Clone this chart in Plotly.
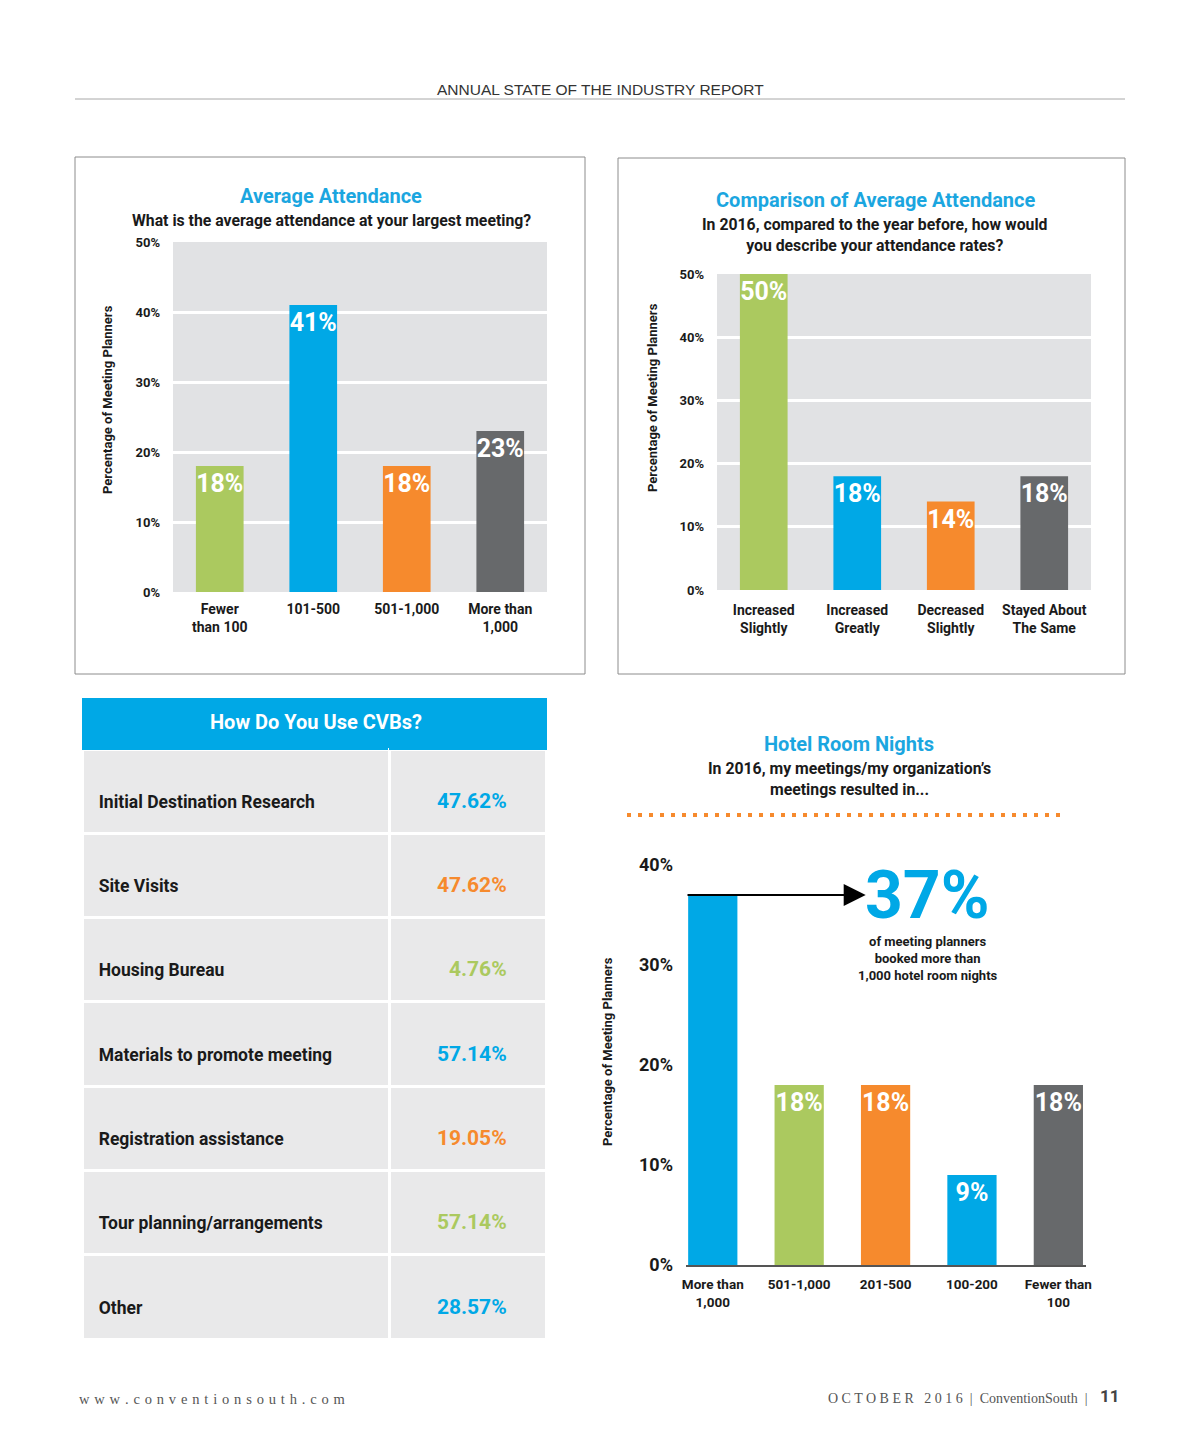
import plotly.graph_objects as go

W, H = 1200, 1450
OFF = 8  # the page body adds an 8px margin around the figure

# ---------------- data ----------------
att_categories = ["Fewer<br>than 100", "101-500", "501-1,000", "More than<br>1,000"]
att_values = [18, 41, 18, 23]

cmp_categories = ["Increased<br>Slightly", "Increased<br>Greatly", "Decreased<br>Slightly", "Stayed About<br>The Same"]
cmp_values = [50, 18, 14, 18]

cvb_uses = ["Initial Destination Research", "Site Visits", "Housing Bureau",
            "Materials to promote meeting", "Registration assistance",
            "Tour planning/arrangements", "Other"]
cvb_values = [47.62, 47.62, 4.76, 57.14, 19.05, 57.14, 28.57]

hotel_categories = ["More than<br>1,000", "501-1,000", "201-500", "100-200", "Fewer than<br>100"]
hotel_values = [37, 18, 18, 9, 18]

ticks_50 = [0, 10, 20, 30, 40, 50]
ticks_40 = [0, 10, 20, 30, 40]

# ---------------- style ----------------
GREEN = "#abc95f"
BLUE = "#00a8e6"
ORANGE = "#f68a2d"
GREY = "#67696b"
PANEL = "#e1e2e4"
CELL = "#e9e9ea"
TITLE_BLUE = "#1ba6e0"
INK = "#1a1a1a"
COND = "Roboto, Liberation Sans Narrow, DejaVu Sans Condensed, sans-serif"

att_colors = [GREEN, BLUE, ORANGE, GREY]
cmp_colors = [GREEN, BLUE, ORANGE, GREY]
cvb_colors = [BLUE, ORANGE, GREEN, BLUE, ORANGE, GREEN, BLUE]
hotel_colors = [BLUE, GREEN, ORANGE, BLUE, GREY]


def px(x):
    return (x - OFF) / W


def py(y):
    return 1 - (y - OFF) / H


bar_text_font = dict(family=COND, size=25, color="white", weight="bold")

fig = go.Figure()

fig.add_trace(go.Bar(
    x=att_categories, y=att_values, xaxis="x", yaxis="y",
    marker=dict(color=att_colors, line=dict(width=0)), width=0.51,
    text=[f"{v}%" for v in att_values], textposition="inside", textangle=0,
    insidetextanchor="end", textfont=bar_text_font, constraintext="none",
    hoverinfo="skip"))

fig.add_trace(go.Bar(
    x=cmp_categories, y=cmp_values, xaxis="x2", yaxis="y2",
    marker=dict(color=cmp_colors, line=dict(width=0)), width=0.51,
    text=[f"{v}%" for v in cmp_values], textposition="inside", textangle=0,
    insidetextanchor="end", textfont=bar_text_font, constraintext="none",
    hoverinfo="skip"))

fig.add_trace(go.Bar(
    x=hotel_categories, y=hotel_values, xaxis="x3", yaxis="y3",
    marker=dict(color=hotel_colors, line=dict(width=0)), width=0.57,
    text=[""] + [f"{v}%" for v in hotel_values[1:]], textposition="inside",
    textangle=0, insidetextanchor="end", textfont=bar_text_font,
    constraintext="none", hoverinfo="skip"))

# cell text: an invisible first line pushes the text down to the cell middle
label_cells = ["\u00a0<br><span style='font-size:17.5px'>\u00a0\u00a0" + s + "</span>"
               for s in cvb_uses]
value_cells = ["\u00a0<br><span style='font-size:21px'>" + f"{v:.2f}%"
               + "\u00a0" * 6 + "</span>" for v in cvb_values]

fig.add_trace(go.Table(
    domain=dict(x=[px(82), px(546)], y=[py(1350), py(698)]),
    columnwidth=[306, 156],
    header=dict(values=["", ""], fill_color=BLUE, height=51,
                line=dict(color=BLUE, width=1)),
    cells=dict(
        values=[label_cells, value_cells],
        align=["left", "right"], height=84.3,
        fill_color=CELL, line=dict(color="white", width=3),
        font=dict(family=COND, size=23, weight="bold",
                  color=[[INK] * len(cvb_uses), cvb_colors]))))

axis_common = dict(showline=False, zeroline=False, ticks="", fixedrange=True,
                   automargin=False)
xtick_font = dict(family=COND, size=14, weight="bold", color=INK)

fig.update_layout(
    template="none",
    width=W, height=H, margin=dict(l=0, r=0, t=0, b=0, autoexpand=False),
    paper_bgcolor="white", plot_bgcolor="white", showlegend=False,
    font=dict(family=COND, color=INK),
    xaxis=dict(domain=[px(173), px(547)], showgrid=False, tickangle=0,
               tickfont=xtick_font, ticklabelstandoff=7, **axis_common),
    yaxis=dict(domain=[py(592), py(242)], range=[0, 50], tickvals=ticks_50,
               ticktext=[f"{v}%" for v in ticks_50],
               showgrid=True, gridcolor="white", gridwidth=3,
               tickfont=dict(family=COND, size=13, weight="bold", color=INK),
               ticklabelstandoff=12, **axis_common),
    xaxis2=dict(domain=[px(717), px(1091)], showgrid=False, anchor="y2",
                tickangle=0, tickfont=xtick_font, ticklabelstandoff=10,
                **axis_common),
    yaxis2=dict(domain=[py(590), py(274)], range=[0, 50], tickvals=ticks_50,
                ticktext=[f"{v}%" for v in ticks_50],
                anchor="x2", showgrid=True, gridcolor="white", gridwidth=3,
                tickfont=dict(family=COND, size=13, weight="bold", color=INK),
                ticklabelstandoff=12, **axis_common),
    xaxis3=dict(domain=[px(686), px(1086)], range=[-0.31, 4.32], anchor="y3",
                showgrid=False, showline=True, linecolor="#555555", linewidth=2,
                zeroline=False, ticks="", fixedrange=True, automargin=False,
                tickangle=0, tickfont=dict(family=COND, size=13.5, weight="bold", color=INK),
                ticklabelstandoff=6),
    yaxis3=dict(domain=[py(1265), py(865)], range=[0, 40], tickvals=ticks_40,
                ticktext=[f"{v}%" for v in ticks_40],
                anchor="x3", showgrid=False,
                tickfont=dict(family=COND, size=18, weight="bold", color=INK),
                ticklabelstandoff=12, **axis_common),
)

shapes = [
    # gray plot panels
    dict(type="rect", xref="x domain", yref="y domain", x0=0, x1=1, y0=0, y1=1,
         fillcolor=PANEL, line=dict(width=0), layer="below"),
    dict(type="rect", xref="x2 domain", yref="y2 domain", x0=0, x1=1, y0=0, y1=1,
         fillcolor=PANEL, line=dict(width=0), layer="below"),
    # chart frames
    dict(type="rect", xref="paper", yref="paper", x0=px(75), x1=px(585),
         y0=py(674), y1=py(157), line=dict(color="#8c8c8c", width=1)),
    dict(type="rect", xref="paper", yref="paper", x0=px(618), x1=px(1125),
         y0=py(674), y1=py(158), line=dict(color="#8c8c8c", width=1)),
    # header rule
    dict(type="line", xref="paper", yref="paper", x0=px(75), x1=px(1125),
         y0=py(99), y1=py(99), line=dict(color="#a8a8a8", width=1)),
    # dotted orange rule
    dict(type="line", xref="paper", yref="paper", x0=px(627), x1=px(1060),
         y0=py(815), y1=py(815), line=dict(color=ORANGE, width=4, dash="4px,7px")),
]
fig.update_layout(shapes=shapes)

ann = []


def text(x, y, t, size, color=INK, family=COND, weight="bold",
         xanchor="center", yanchor="middle", angle=0):
    ann.append(dict(xref="paper", yref="paper", x=px(x), y=py(y), text=t,
                    showarrow=False, xanchor=xanchor, yanchor=yanchor,
                    textangle=angle,
                    font=dict(family=family, size=size, color=color, weight=weight)))


# page header / footer
text(600, 89, "ANNUAL STATE OF THE INDUSTRY REPORT", 15.5, color="#333333",
     family="Liberation Sans, Arial, sans-serif", weight="normal")
text(77, 1399, " \u200a".join("www.conventionsouth.com"), 14.5, color="#555555",
     family="Liberation Serif, serif", weight="normal", xanchor="left")
text(1089, 1398, " ".join("OCTOBER") + "\u00a0\u00a0 " + " ".join("2016")
     + "\u00a0 | \u00a0ConventionSouth\u00a0 |", 14, color="#555555",
     family="Liberation Serif, serif", weight="normal", xanchor="right")
text(1098, 1396, "11", 17, color="#444444", family=COND, xanchor="left")

# chart 1
text(331, 196, "Average Attendance", 20, color=TITLE_BLUE)
text(331, 220, "What is the average attendance at your largest meeting?", 15.8)
text(108, 400, "Percentage of Meeting Planners", 13, angle=-90)

# chart 2
text(875, 200, "Comparison of Average Attendance", 20, color=TITLE_BLUE)
text(875, 235, "In 2016, compared to the year before, how would<br>you describe your attendance rates?", 15.8)
text(652, 398, "Percentage of Meeting Planners", 13, angle=-90)

# table header
text(316, 722, "How Do You Use CVBs?", 20, color="white")

# chart 4
text(849, 744, "Hotel Room Nights", 20, color=TITLE_BLUE)
text(849, 779, "In 2016, my meetings/my organization\u2019s<br>meetings resulted in...", 15.8)
text(607, 1052, "Percentage of Meeting Planners", 13, angle=-90)
text(928, 958, "of meeting planners<br>booked more than<br>1,000 hotel room nights", 13)

# 37% callout anchored to the first hotel bar value
ann.append(dict(xref="x3", yref="y3", x=2.49, y=hotel_values[0],
                text=f"{hotel_values[0]}%", showarrow=False,
                xanchor="center", yanchor="middle",
                font=dict(family=COND, size=66, color=BLUE, weight="bold")))
ann.append(dict(xref="x3", yref="y3", axref="x3", ayref="y3",
                x=1.77, y=hotel_values[0], ax=-0.31, ay=hotel_values[0],
                text="", showarrow=True, arrowhead=2, arrowsize=2.2,
                arrowwidth=2, arrowcolor="black"))

fig.update_layout(annotations=ann)

fig.write_html("out.html")
